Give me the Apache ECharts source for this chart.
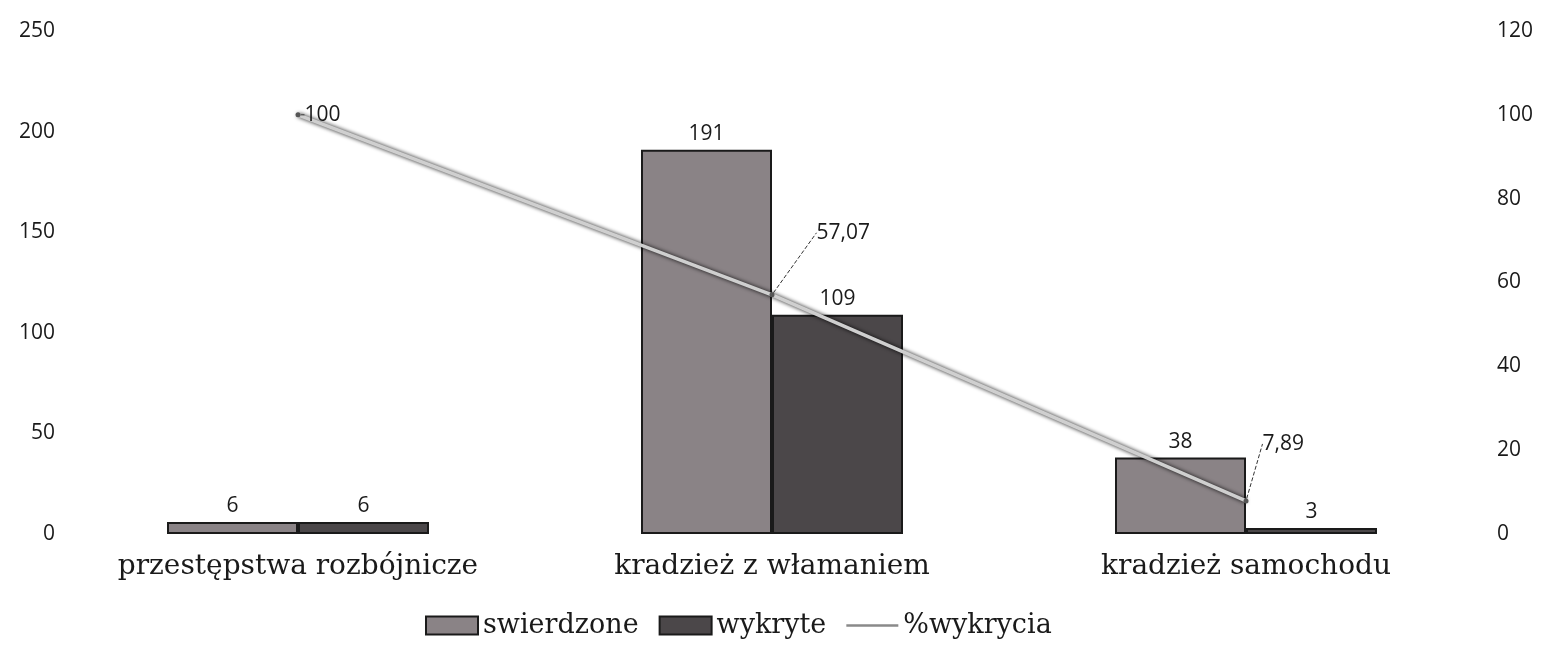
<!DOCTYPE html>
<html>
<head>
<meta charset="utf-8">
<script src="https://cdn.jsdelivr.net/npm/echarts@6/dist/echarts.min.js"></script>
<style>
  html, body { margin: 0; padding: 0; background: #fff; }
  #chart { width: 1541px; height: 650px; }
</style>
</head>
<body>
<div id="chart"></div>
<script>
var categories  = ['przestępstwa rozbójnicze', 'kradzież z włamaniem', 'kradzież samochodu'];
var stwierdzone = [6, 191, 38];
var wykryte     = [6, 109, 3];
var procent     = [100, 57.07, 7.89];

var chart = echarts.init(document.getElementById('chart'));

var numFont = { fontFamily: 'Open Sans', fontSize: 21, color: '#1a1a1a' };

function comma(v) {
  return String(v).replace('.', ',');
}

var option = {
  animation: false,
  backgroundColor: '#fff',
  grid: { left: 61, right: 58, top: 31, bottom: 116 },
  legend: {
    bottom: 6,
    left: 420,
    itemWidth: 52,
    itemHeight: 18,
    itemGap: 20,
    textStyle: { fontFamily: 'DejaVu Serif', fontSize: 27, color: '#1a1a1a', padding: [0, 0, 0, 0] },
    data: [
      { name: 'swierdzone', icon: 'rect' },
      { name: 'wykryte', icon: 'rect' },
      { name: '%wykrycia', icon: 'path://M0,0 L60,0 L60,3 L0,3 Z', itemStyle: { color: '#8a8a8a' } }
    ]
  },
  xAxis: {
    type: 'category',
    data: categories,
    axisLine: { show: false },
    axisTick: { show: false },
    axisLabel: { fontFamily: 'DejaVu Serif', fontSize: 28, color: '#1a1a1a', margin: 19 }
  },
  yAxis: [
    {
      type: 'value', min: 0, max: 250, interval: 50,
      axisLine: { show: false }, axisTick: { show: false },
      splitLine: { show: false },
      axisLabel: Object.assign({ margin: 6 }, numFont)
    },
    {
      type: 'value', min: 0, max: 120, interval: 20,
      axisLine: { show: false }, axisTick: { show: false },
      splitLine: { show: false },
      axisLabel: Object.assign({ margin: 14 }, numFont)
    }
  ],
  series: [
    {
      name: 'swierdzone',
      type: 'bar',
      data: stwierdzone,
      barWidth: 131,
      barGap: '0%',
      itemStyle: { color: '#8a8386', borderColor: '#1a1a1a', borderWidth: 2 },
      label: Object.assign({ show: true, position: 'top', distance: 5 }, numFont)
    },
    {
      name: 'wykryte',
      type: 'bar',
      data: wykryte,
      barWidth: 131,
      barGap: '0%',
      itemStyle: { color: '#4b4749', borderColor: '#1a1a1a', borderWidth: 2 },
      label: Object.assign({ show: true, position: 'top', distance: 5 }, numFont)
    },
    {
      name: '%wykrycia',
      type: 'line',
      yAxisIndex: 1,
      data: procent,
      symbol: 'circle',
      symbolSize: 5,
      itemStyle: { color: '#555' },
      lineStyle: {
        color: '#cfcfcf', width: 3.5,
        shadowColor: 'rgba(0,0,0,0.95)', shadowBlur: 4
      },
      label: Object.assign({
        show: true,
        position: 'right',
        distance: 4,
        formatter: function(p) { return comma(p.value); }
      }, numFont),
      labelLine: {
        show: true,
        lineStyle: { color: '#333', type: 'dashed', width: 1 }
      },
      labelLayout: function(p) {
        if (p.dataIndex === 1) return { dx: 38, dy: -62 };
        if (p.dataIndex === 2) return { dx: 10, dy: -57 };
        return {};
      }
    }
  ]
};

chart.setOption(option);
</script>
</body>
</html>
